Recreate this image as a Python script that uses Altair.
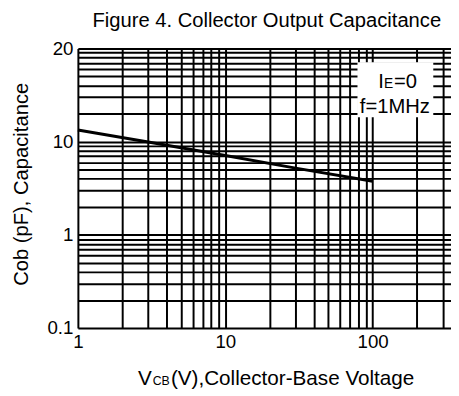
import altair as alt
import pandas as pd

# ---- data ----
vcb = [1, 3, 10, 30, 100]
cob = [13.3, 9.9, 7.1, 5.2, 3.75]

x_grid = [1, 2, 3, 4, 5, 6, 7, 8, 9, 10, 20, 30, 40, 50, 60, 70, 80, 90, 100, 200, 300]
y_grid = [0.1, 0.2, 0.3, 0.4, 0.5, 0.6, 0.7, 0.8, 0.9,
          1, 2, 3, 4, 5, 6, 7, 8, 9,
          10, 20, 30, 40, 50, 60, 70, 80, 90, 100]
x_label_vals = [1, 10, 100]
x_label_txt = ["1", "10", "100"]
y_label_vals = [0.1, 1, 10, 100]
y_label_txt = ["0.1", "1", "10", "20"]

title_txt = "Figure 4. Collector Output Capacitance"
y_title_txt = "Cob (pF), Capacitance"
x_title_parts = ["V", "CB", "(V),Collector-Base Voltage"]
note1_parts = ["I", "E", "=0"]
note2_txt = "f=1MHz"

W, H = 379, 284
FONT = "Liberation Sans"


def label_expr(vals, txts):
    expr = "''"
    for v, t in zip(reversed(vals), reversed(txts)):
        expr = f"(datum.value == {v} ? '{t}' : {expr})"
    return expr


df = pd.DataFrame({"vcb": vcb, "cob": cob})
one = pd.DataFrame({"k": [0]})

line = alt.Chart(df).mark_line(color="black", strokeWidth=3).encode(
    x=alt.X("vcb:Q",
            scale=alt.Scale(type="log", domain=[1, 340], nice=False),
            axis=alt.Axis(values=x_grid, grid=True, gridColor="black", gridWidth=2,
                          gridOpacity=1, ticks=False, domain=False,
                          labelExpr=label_expr(x_label_vals, x_label_txt),
                          labelFlush=False, labelPadding=5, labelFontSize=19,
                          labelColor="black", labelFont=FONT, title=None)),
    y=alt.Y("cob:Q",
            scale=alt.Scale(type="log", domain=[0.1, 100], nice=False),
            axis=alt.Axis(values=y_grid, grid=True, gridColor="black", gridWidth=2,
                          gridOpacity=1, ticks=False, domain=False,
                          labelExpr=label_expr(y_label_vals, y_label_txt),
                          labelPadding=5, labelFontSize=19, labelColor="black",
                          labelFont=FONT, title=None)),
)

box = alt.Chart(one).mark_rect(color="white").encode(
    x=alt.value(284), x2=alt.value(361), y=alt.value(14), y2=alt.value(70))

def txt(s, x, y, size, align="left", angle=0, baseline="alphabetic"):
    return alt.Chart(one).mark_text(text=s, fontSize=size, font=FONT, color="black",
                                    align=align, baseline=baseline, angle=angle).encode(
        x=alt.value(x), y=alt.value(y))

layers = [
    line, box,
    txt(note1_parts[0], 305, 40, 20.5),
    txt(note1_parts[1], 311, 40, 14),
    txt(note1_parts[2], 321, 40, 20.5),
    txt(note2_txt, 322, 66, 20.5, align="center"),
    txt(title_txt, 369, -22, 20.5, align="right"),
    txt(y_title_txt, -57, 138, 20.5, align="center", angle=270, baseline="middle"),
    txt(x_title_parts[0], 61, 342, 21),
    txt(x_title_parts[1], 76, 342, 12.5),
    txt(x_title_parts[2], 94.5, 342, 21),
]

chart = alt.layer(*layers).properties(
    width=W, height=H,
    autosize=alt.AutoSizeParams(type="none"),
    padding={"left": 71, "top": 38, "right": 0, "bottom": 66},
).configure_view(stroke="black", strokeWidth=2).configure(font=FONT)

chart.save("out.html", embed_options={"renderer": "svg", "actions": False})
